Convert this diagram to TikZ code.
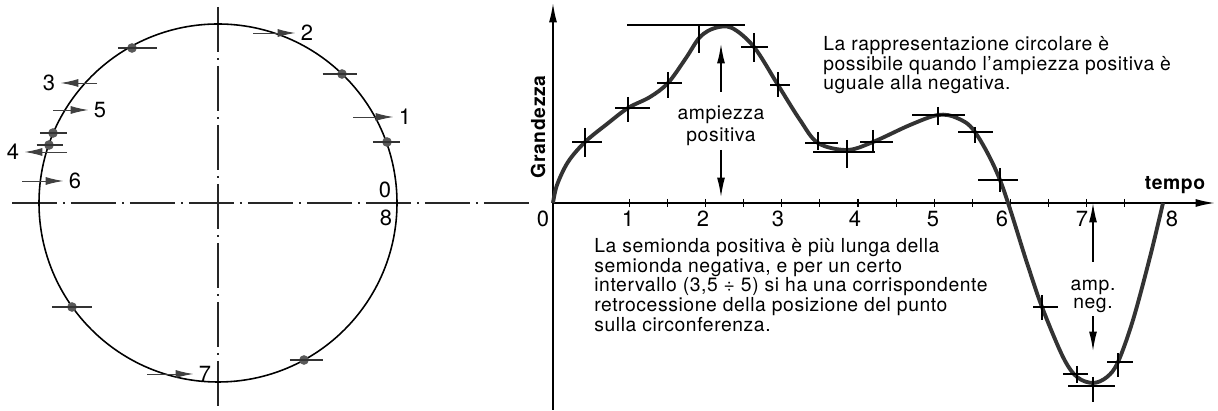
\documentclass[tikz,border=0pt]{standalone}
\usepackage{fontspec}
\setmainfont{TeX Gyre Heros}[LetterSpace=3]
\usetikzlibrary{arrows.meta, positioning}

\begin{document}
\begin{tikzpicture}[
        x = 0.02cm, y = -0.02cm,
        >= {Latex[length = 10pt, width = 4.5pt]},
        every node/.style = {font = \fontsize{11}{11.2}\selectfont, inner sep = 1pt},
        centre line/.style = {line width = 0.8pt, black!85,
            dash pattern = on 0.9cm off 0.12cm on 0.04cm off 0.12cm},
        circ arrow/.style = {->, black!75, line width = 0.5pt, shorten >= 2pt},
        dot/.style = {circle, fill = black!65, inner sep = 0pt, minimum size = 5.5pt},
        bar/.style = {black!80, line width = 0.6pt},
        axis/.style = {line width = 0.9pt, -{Latex[length = 11pt, width = 4.5pt]}},
        crossbar/.style = {line width = 0.6pt},
        wave/.style = {line width = 2.2pt, black!80, line join = round},
        num/.style = {font = \fontsize{12.5}{12.5}\selectfont},
        note/.style = {align = left, anchor = north west, inner sep = 0pt},
        amp/.style = {->, line width = 0.8pt, >= {Latex[length = 11pt, width = 4.5pt]}}
    ]
    \useasboundingbox (0,0) rectangle (1218,411);

    % circle and centre lines
    \coordinate (c) at (218,203);
    \coordinate (hl) at (12,203);
    \coordinate (hr) at (530,203);
    \coordinate (vt) at (218,7);
    \coordinate (vb) at (218,408);
    \draw[centre line] (hl) -- (hr);
    \draw[centre line] (vt) -- (vb);
    \draw[line width = 0.9pt] (c) circle [radius = 179];

    % points on the circle
    \node[dot] (d1) at (132,48) {};
    \node[dot] (d2) at (342,74) {};
    \node[dot] (d3) at (387,142) {};
    \node[dot] (d4) at (53,133) {};
    \node[dot] (d5) at (49,145) {};
    \node[dot] (d6) at (72,307) {};
    \node[dot] (d7) at (304,360) {};
    \draw[bar] ([xshift = -8pt]d1.center) -- ([xshift = 14pt]d1.center);
    \draw[bar] ([xshift = -11pt]d2.center) -- ([xshift = 8.5pt]d2.center);
    \draw[bar] ([xshift = -8pt]d3.center) -- ([xshift = 7.5pt]d3.center);
    \draw[bar] ([xshift = -7.5pt]d4.center) -- ([xshift = 8pt]d4.center);
    \draw[bar] ([xshift = -7pt]d5.center) -- ([xshift = 8pt]d5.center);
    \draw[bar] ([xshift = -11.4pt]d6.center) -- ([xshift = 11.4pt]d6.center);
    \draw[bar] ([xshift = -8pt]d7.center) -- ([xshift = 11pt]d7.center);

    % numbered positions
    \node[num] (n1) at (405,117) {1};
    \node[num] (n2) at (307,33) {2};
    \node[num] (n3) at (49,83) {3};
    \node[num] (n4) at (13,152) {4};
    \node[num] (n5) at (100,110) {5};
    \node[num] (n6) at (75,181) {6};
    \node[num] (n7) at (205,374) {7};
    \node[num] (n0) at (385,190) {0};
    \node[num] (n8) at (386,218) {8};
    \coordinate (t1) at (353,117);
    \coordinate (t2) at (253,33);
    \coordinate (t3) at (97,83);
    \coordinate (t4) at (67,152);
    \coordinate (t5) at (53,110);
    \coordinate (t6) at (22,181);
    \coordinate (t7) at (147,374);
    \draw[circ arrow] (t1) -- (n1.west);
    \draw[circ arrow] (t2) -- (n2.west);
    \draw[circ arrow] (t3) -- (n3.east);
    \draw[circ arrow] (t4) -- (n4.east);
    \draw[circ arrow] (t5) -- (n5.west);
    \draw[circ arrow] (t6) -- (n6.west);
    \draw[circ arrow] (t7) -- (n7.west);

    % axes of the graph
    \coordinate (o) at (553,203);
    \coordinate (ybot) at (553,410);
    \coordinate (ytop) at (553,3);
    \coordinate (xend) at (1215,203);
    \draw[axis] (ybot) -- (ytop);
    \draw[axis] (o) -- (xend);
    \foreach \t in {1,1.5,...,7.5}
        \draw[crossbar] (553+76.25*\t,199) -- (553+76.25*\t,207);
    \foreach \t/\x in {0/543, 1/628, 2/703, 3/778, 4/855, 5/933, 6/1002, 7/1082, 8/1172}
        \node[num] (x\t) at (\x,219) {\t};
    \node[font = \bfseries\fontsize{11}{11}\selectfont, rotate = 90] (gr) at (538,127) {Grandezza};
    \node[font = \bfseries\fontsize{11}{11}\selectfont] (tm) at (1175,185) {tempo};

    % the wave
    \draw[wave] plot[smooth, tension = 0.55] coordinates {
        (553,203) (557,185) (568,162) (585,142) (607,124) (628,108) (650,97)
        (668,83) (686,58) (700,37) (715,28) (732,28) (754,47) (778,85)
        (800,120) (818,143) (847,150) (873,142) (910,125) (938,115) (957,118)
        (975,132) (1000,180) (1027,263) (1042,307) (1063,357) (1077,377)
        (1093,383) (1107,377) (1118,362) (1133,320) (1150,257) (1163,203)};

    % marks on the wave
    \draw[crossbar] (572,142) -- (602,142) (585,128) -- (585,157);
    \draw[crossbar] (615,108) -- (650,108) (628,97) -- (628,122);
    \draw[crossbar] (657,83) -- (682,83) (668,72) -- (668,98);
    \draw[crossbar] (627,25) -- (745,25) (699,25) -- (699,53);
    \draw[crossbar] (741,47) -- (768,47) (754,33) -- (754,62);
    \draw[crossbar] (770,85) -- (790,85) (778,72) -- (778,97);
    \draw[crossbar] (805,143) -- (838,143) (818,132) -- (818,150);
    \draw[crossbar] (813,152) -- (875,152) (847,140) -- (847,168);
    \draw[crossbar] (860,142) -- (893,142) (873,130) -- (873,152);
    \draw[crossbar] (912,115) -- (965,115) (938,107) -- (938,125);
    \draw[crossbar] (958,132) -- (993,132) (975,127) -- (975,143);
    \draw[crossbar] (978,180) -- (1018,180) (1000,168) -- (1000,192);
    \draw[crossbar] (1033,307) -- (1058,307) (1042,295) -- (1042,320);
    \draw[crossbar] (1063,374) -- (1088,374) (1077,366) -- (1077,383);
    \draw[crossbar] (1068,386) -- (1115,386) (1093,377) -- (1093,402);
    \draw[crossbar] (1107,362) -- (1133,362) (1118,353) -- (1118,377);

    % amplitudes
    \node[align = center, font = \fontsize{11}{12.5}\selectfont, inner ysep = 2pt] (ampp) at (721,126) {ampiezza\\positiva};
    \coordinate (pkp) at (721,44);
    \coordinate (axp) at (721,197);
    \draw[amp] ([yshift = 6pt]ampp.north) -- (pkp);
    \draw[amp] (ampp.south) -- (axp);
    \node[align = center, font = \fontsize{11}{10.2}\selectfont, inner ysep = 2pt] (ampn) at (1093,296) {amp.\\neg.};
    \coordinate (axn) at (1093,203);
    \coordinate (pkn) at (1093,351);
    \draw[amp] ([yshift = 8pt]ampn.north) -- (axn);
    \draw[amp] (ampn.south) -- (pkn);

    % notes
    \node[note] (circ) at (823,36) {La rappresentazione circolare è\\possibile quando l’ampiezza positiva è\\uguale alla negativa.};
    \node[note] (semi) at (594,238) {La semionda positiva è più lunga della\\semionda negativa, e per un certo\\intervallo (3,5 ÷ 5) si ha una corrispondente\\retrocessione della posizione del punto\\sulla circonferenza.};
\end{tikzpicture}
\end{document}
